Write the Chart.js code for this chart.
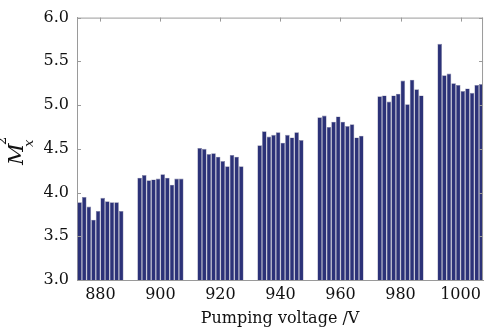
<!DOCTYPE html>
<html>
<head>
<meta charset="utf-8">
<script src="https://cdn.jsdelivr.net/npm/chart.js@4"></script>
<style>
  html, body { margin: 0; padding: 0; background: #fff; }
  #wrap { width: 486px; height: 328px; }
</style>
</head>
<body>
<div id="wrap"><canvas id="grafica"></canvas></div>
<script>
// Datos
const voltajes = [880, 900, 920, 940, 960, 980, 1000];
const m2_880  = [3.89, 3.95, 3.84, 3.69, 3.79, 3.94, 3.90, 3.89, 3.89, 3.79];
const m2_900  = [4.17, 4.20, 4.14, 4.15, 4.16, 4.21, 4.17, 4.09, 4.16, 4.16];
const m2_920  = [4.51, 4.50, 4.44, 4.45, 4.41, 4.36, 4.30, 4.43, 4.41, 4.30];
const m2_940  = [4.54, 4.70, 4.64, 4.66, 4.69, 4.57, 4.66, 4.63, 4.69, 4.60];
const m2_960  = [4.86, 4.88, 4.75, 4.81, 4.87, 4.81, 4.76, 4.78, 4.63, 4.65];
const m2_980  = [5.10, 5.11, 5.04, 5.11, 5.13, 5.28, 5.01, 5.29, 5.18, 5.11];
const m2_1000 = [5.70, 5.34, 5.36, 5.25, 5.23, 5.16, 5.19, 5.14, 5.23, 5.24];
const yTicks = [3.0, 3.5, 4.0, 4.5, 5.0, 5.5, 6.0];

const grupos = [m2_880, m2_900, m2_920, m2_940, m2_960, m2_980, m2_1000];
const fuente = '"DejaVu Serif", "Liberation Serif", serif';

// Un dataset por posición de barra dentro de cada grupo
const datasets = [];
for (let i = 0; i < 10; i++) {
    datasets.push({
        data: voltajes.map((v, g) => ({ x: v, y: grupos[g][i] })),
        backgroundColor: '#2c3278',
        borderColor: '#8a8aa8',
        borderWidth: 0.6,
        categoryPercentage: 0.77,
        barPercentage: 1.0
    });
}

// Marcas hacia dentro y etiqueta del eje Y con sub/superíndice
const marcasPlugin = {
    id: 'marcas',
    afterDraw(chart) {
        const ctx = chart.ctx;
        const a = chart.chartArea;
        const ys = chart.scales.y;
        const xs = chart.scales.x;
        ctx.save();
        ctx.strokeStyle = '#9a9a9a';
        ctx.lineWidth = 1;
        ctx.beginPath();
        // borde superior
        ctx.moveTo(a.left, a.top + 0.5);
        ctx.lineTo(a.right, a.top + 0.5);
        ctx.moveTo(a.right - 0.5, a.top);
        ctx.lineTo(a.right - 0.5, a.bottom);
        yTicks.forEach(t => {
            const py = Math.round(ys.getPixelForValue(t)) + 0.5;
            ctx.moveTo(a.left, py); ctx.lineTo(a.left + 4, py);
            ctx.moveTo(a.right, py); ctx.lineTo(a.right - 4, py);
        });
        voltajes.forEach(v => {
            const px = Math.round(xs.getPixelForValue(v)) + 0.5;
            ctx.moveTo(px, a.top); ctx.lineTo(px, a.top + 4);
        });
        ctx.stroke();

        // M_x^2 girado
        ctx.fillStyle = '#111';
        ctx.translate(23, 165);
        ctx.rotate(-Math.PI / 2);
        ctx.textBaseline = 'alphabetic';
        ctx.font = 'italic 21px ' + fuente;
        ctx.fillText('M', 0, 0);
        ctx.font = 'italic 13px ' + fuente;
        ctx.fillText('x', 18, 10);
        ctx.font = '13px ' + fuente;
        ctx.fillText('2', 20, -17);
        ctx.restore();
    }
};

const ctx = document.getElementById('grafica').getContext('2d');
new Chart(ctx, {
    type: 'bar',
    data: { datasets: datasets },
    options: {
        responsive: true,
        maintainAspectRatio: false,
        animation: false,
        layout: { padding: { top: 11, right: 2, left: 0, bottom: 0 } },
        plugins: {
            legend: { display: false },
            tooltip: { enabled: false }
        },
        scales: {
            x: {
                type: 'linear',
                min: 872.2,
                max: 1007.5,
                offset: false,
                afterBuildTicks: function(scale) {
                    scale.ticks = voltajes.map(v => ({ value: v }));
                },
                afterFit: function(scale) { scale.height = 48; },
                grid: { display: false, drawTicks: false },
                border: { display: true, color: '#9a9a9a' },
                ticks: {
                    color: '#111',
                    font: { family: fuente, size: 16 },
                    padding: 5,
                    maxRotation: 0,
                    callback: v => String(v)
                },
                title: {
                    display: true,
                    text: 'Pumping voltage /V',
                    color: '#111',
                    font: { family: fuente, size: 16 },
                    padding: { top: 0, bottom: 0 }
                }
            },
            y: {
                min: 3,
                max: 6,
                afterBuildTicks: function(scale) {
                    scale.ticks = yTicks.map(v => ({ value: v }));
                },
                afterFit: function(scale) { scale.width = 77; },
                grid: { display: false, drawTicks: false },
                border: { display: true, color: '#9a9a9a' },
                ticks: {
                    color: '#111',
                    font: { family: fuente, size: 16 },
                    padding: 8,
                    callback: v => Number(v).toFixed(1)
                }
            }
        }
    },
    plugins: [marcasPlugin]
});
</script>
</body>
</html>
